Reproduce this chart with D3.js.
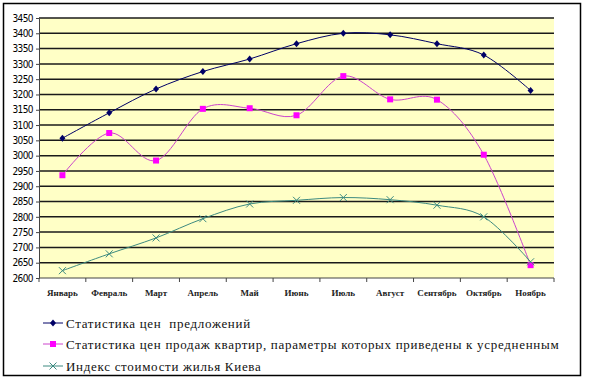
<!DOCTYPE html>
<html>
<head>
<meta charset="utf-8">
<script src="https://cdn.jsdelivr.net/npm/d3@7"></script>
<style>
body { margin: 0; background: #fff; }
svg { display: block; }
</style>
</head>
<body>
<div id="chart"></div>
<script>
// data
const months = ["Январь", "Февраль", "Март", "Апрель", "Май", "Июнь", "Июль", "Август", "Сентябрь", "Октябрь", "Ноябрь"];
const offers = [3057, 3140, 3218, 3275, 3316, 3366, 3400, 3395, 3366, 3329, 3213];
const sales = [2936, 3074, 2984, 3153, 3155, 3132, 3260, 3184, 3183, 3003, 2642];
const kievIndex = [2624, 2679, 2731, 2794, 2842, 2854, 2863, 2856, 2838, 2800, 2653];
const yTicks = d3.range(2600, 3451, 50);
const seriesNames = [
    "Статистика цен  предложений",
    "Статистика цен продаж квартир, параметры которых приведены к усредненным",
    "Индекс стоимости жилья Киева"
];

const W = 600, H = 378;
const plot = { left: 39, right: 554, top: 18, bottom: 278 };

const svg = d3.select("#chart").append("svg")
    .attr("width", W)
    .attr("height", H);

// outer frame
svg.append("rect")
    .attr("x", 3.5).attr("y", 3.5)
    .attr("width", 577).attr("height", 372)
    .attr("fill", "#fff")
    .attr("stroke", "#000")
    .attr("stroke-width", 1.5);

const x = d3.scaleBand().domain(months).range([plot.left, plot.right]);
const y = d3.scaleLinear().domain([2600, 3450]).range([plot.bottom, plot.top]);

// plot background
svg.append("rect")
    .attr("x", plot.left).attr("y", plot.top)
    .attr("width", plot.right - plot.left)
    .attr("height", plot.bottom - plot.top)
    .attr("fill", "#ffffc6");

// gridlines
svg.append("g")
    .selectAll("line")
    .data(yTicks.filter(v => v > 2600))
    .enter().append("line")
    .attr("x1", plot.left).attr("x2", plot.right)
    .attr("y1", d => y(d)).attr("y2", d => y(d))
    .attr("stroke", "#1a1a1a")
    .attr("stroke-width", 1.5);

// y axis
const yAxis = svg.append("g")
    .attr("transform", `translate(${plot.left},0)`)
    .call(d3.axisLeft(y).tickValues(yTicks).tickSize(3).tickPadding(3).tickFormat(d3.format("d")));
yAxis.select(".domain").attr("stroke", "#444");
yAxis.selectAll(".tick line").attr("stroke", "#444");
yAxis.selectAll("text")
    .attr("font-family", "'DejaVu Sans Condensed', 'DejaVu Sans', sans-serif")
    .attr("font-size", 10)
    .attr("letter-spacing", -0.6)
    .attr("fill", "#000");

// x axis, ticks between categories
const xAxis = svg.append("g")
    .attr("transform", `translate(0,${plot.bottom})`);
xAxis.append("line")
    .attr("x1", plot.left).attr("x2", plot.right)
    .attr("y1", 0).attr("y2", 0)
    .attr("stroke", "#444");
xAxis.selectAll("line.tk")
    .data(d3.range(months.length + 1))
    .enter().append("line")
    .attr("class", "tk")
    .attr("x1", i => plot.left + i * x.step())
    .attr("x2", i => plot.left + i * x.step())
    .attr("y1", 0).attr("y2", 4)
    .attr("stroke", "#444");
xAxis.selectAll("text")
    .data(months)
    .enter().append("text")
    .attr("x", d => x(d) + x.bandwidth() / 2)
    .attr("y", 18)
    .attr("text-anchor", "middle")
    .attr("font-family", "'Liberation Serif', serif")
    .attr("font-size", 9)
    .attr("font-weight", "bold")
    .attr("fill", "#222")
    .text(d => d);

const series = [
    { values: offers, color: "#000066", marker: "diamond" },
    { values: sales, color: "#cc44cc", markerColor: "#ff00ff", marker: "square" },
    { values: kievIndex, color: "#3d8a80", marker: "cross" }
];

const line = d3.line()
    .x((d, i) => x(months[i]) + x.bandwidth() / 2)
    .y(d => y(d))
    .curve(d3.curveCardinal.tension(0));

function drawMarker(g, type, color, cx, cy) {
    if (type == "diamond") {
        g.append("path")
            .attr("d", `M${cx},${cy - 3.5}L${cx + 3},${cy}L${cx},${cy + 3.5}L${cx - 3},${cy}Z`)
            .attr("fill", color);
    } else if (type == "square") {
        g.append("rect")
            .attr("x", cx - 3).attr("y", cy - 3)
            .attr("width", 6).attr("height", 6)
            .attr("fill", color);
    } else {
        g.append("path")
            .attr("d", `M${cx - 3.5},${cy - 3.5}L${cx + 3.5},${cy + 3.5}M${cx - 3.5},${cy + 3.5}L${cx + 3.5},${cy - 3.5}`)
            .attr("stroke", color)
            .attr("stroke-width", 1);
    }
}

series.forEach(s => {
    const g = svg.append("g");
    g.append("path")
        .datum(s.values)
        .attr("d", line)
        .attr("fill", "none")
        .attr("stroke", s.color)
        .attr("stroke-width", 1);
    s.values.forEach((v, i) => {
        drawMarker(g, s.marker, s.markerColor || s.color, x(months[i]) + x.bandwidth() / 2, y(v));
    });
});

// legend
const legendY = [323, 344, 366];
series.forEach((s, i) => {
    const g = svg.append("g");
    g.append("line")
        .attr("x1", 43).attr("x2", 63)
        .attr("y1", legendY[i]).attr("y2", legendY[i])
        .attr("stroke", s.color)
        .attr("stroke-width", 1);
    drawMarker(g, s.marker, s.markerColor || s.color, 53, legendY[i]);
    g.append("text")
        .attr("x", 66)
        .attr("y", legendY[i] + 5)
        .attr("font-family", "'Liberation Serif', serif")
        .attr("font-size", 13)
        .attr("letter-spacing", 0.7)
        .style("white-space", "pre")
        .attr("fill", "#111")
        .text(seriesNames[i]);
});
</script>
</body>
</html>
